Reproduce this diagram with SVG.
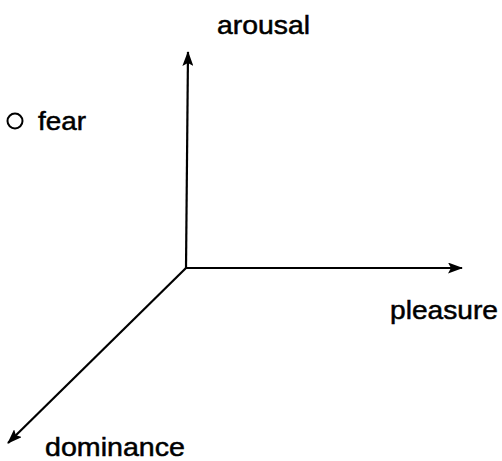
<svg xmlns="http://www.w3.org/2000/svg" width="502" height="461" viewBox="0 0 502 461">
<style>
.lbl{font-family:"Liberation Sans",Arial,sans-serif;font-size:26px;fill:#000;stroke:#000;stroke-width:0.5;}
.ax{stroke:#000;stroke-width:2.2;fill:none;}
</style>
<defs>
<marker id="ah" viewBox="0 0 15 11" refX="14" refY="5.5" markerWidth="15" markerHeight="11" markerUnits="userSpaceOnUse" orient="auto">
<path d="M0,0 L15,5.5 L0,11 L3,5.5 Z" fill="#000"/>
</marker>
</defs>
<rect width="502" height="461" fill="#fff"/>
<g id="connectors">
<line class="ax" x1="186" y1="268" x2="188" y2="52" marker-end="url(#ah)"/>
<line class="ax" x1="186" y1="268" x2="462" y2="268" marker-end="url(#ah)"/>
<line class="ax" x1="186" y1="268" x2="8" y2="443" marker-end="url(#ah)"/>
</g>
<g id="arousal"><text class="lbl" x="217" y="34" textLength="93" lengthAdjust="spacingAndGlyphs">arousal</text></g>
<g id="pleasure"><text class="lbl" x="390" y="319" textLength="108" lengthAdjust="spacingAndGlyphs">pleasure</text></g>
<g id="dominance"><text class="lbl" x="45" y="456" textLength="140" lengthAdjust="spacingAndGlyphs">dominance</text></g>
<g id="fear">
<circle cx="15" cy="121" r="7.5" fill="none" stroke="#000" stroke-width="2"/>
<text class="lbl" x="38" y="130" textLength="48" lengthAdjust="spacingAndGlyphs">fear</text>
</g>
</svg>
